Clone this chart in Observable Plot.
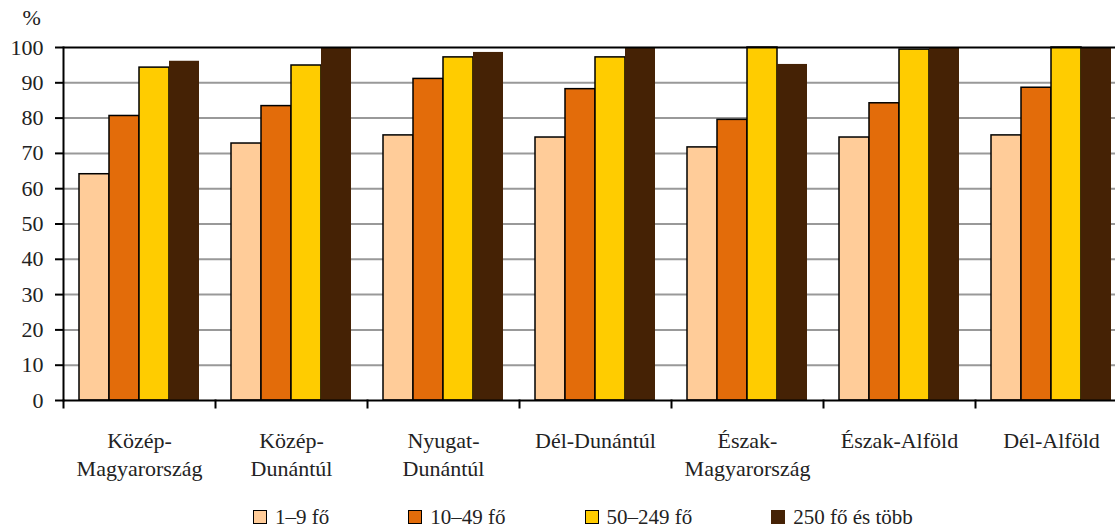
<!DOCTYPE html>
<html><head><meta charset="utf-8">
<script src="https://cdn.jsdelivr.net/npm/d3@7"></script>
<script src="https://cdn.jsdelivr.net/npm/@observablehq/plot@0.6"></script>
<style>
html,body{margin:0;padding:0;background:#fff;overflow:hidden;width:1115px;height:530px;}
body{padding-top:6px;box-sizing:border-box;}
#chart svg{max-width:none !important;display:block;}
#chart svg text{font-family:'Liberation Serif',serif;}
.legend{display:flex;align-items:center;padding-left:253px;margin-top:4px;font-family:'Liberation Serif',serif;font-size:21px;color:#222;line-height:26px;}
.legend .item{display:flex;align-items:center;margin-right:79px;}
.legend .sw{width:12px;height:12px;border:1.5px solid #000;margin-right:8px;display:inline-block;}
.legend .sw.nb{border-color:transparent;}
</style></head><body><div id="chart"></div>
<script>
const regions = ["Közép-Magyarország","Közép-Dunántúl","Nyugat-Dunántúl","Dél-Dunántúl","Észak-Magyarország","Észak-Alföld","Dél-Alföld"];
const tickLabels = ["Közép-\nMagyarország","Közép-\nDunántúl","Nyugat-\nDunántúl","Dél-Dunántúl","Észak-\nMagyarország","Észak-Alföld","Dél-Alföld"];
const sizes = ["1–9 fő","10–49 fő","50–249 fő","250 fő és több"];
const colors = ["#FFCC99","#E36C0A","#FFCC00","#452205"];
const v1_9    = [64.1, 72.8, 75.1, 74.5, 71.7, 74.5, 75.1];
const v10_49  = [80.6, 83.4, 91.1, 88.2, 79.5, 84.2, 88.6];
const v50_249 = [94.3, 94.9, 97.2, 97.2, 100, 99.4, 100];
const v250    = [96.1, 100, 98.6, 100, 95.2, 100, 100];
const yTicks = [0,10,20,30,40,50,60,70,80,90,100];
const gridTicks = [10,20,30,40,50,60,70,80,90];

const seriesValues = [v1_9, v10_49, v50_249, v250];
const data = [];
regions.forEach((r, i) => sizes.forEach((s, j) => data.push({region: r, size: s, value: seriesValues[j][i]})));
const labelOf = new Map(regions.map((r, i) => [r, tickLabels[i]]));

const plot = Plot.plot({
  width: 1127, height: 494,
  marginTop: 41, marginBottom: 100, marginLeft: 63, marginRight: 0,
  style: {fontFamily: "'Liberation Serif', serif", fontSize: "22px", color: "#000", background: "#fff", overflow: "visible"},
  fx: {domain: regions, padding: 0, label: null},
  x: {domain: sizes, paddingInner: 0, paddingOuter: 0.51, axis: null},
  y: {domain: [0, 100]},
  color: {domain: sizes, range: colors},
  marks: [
    Plot.gridY(gridTicks, {stroke: "#999", strokeOpacity: 1, strokeWidth: 2}),
    Plot.barY(data, {filter: d => d.size !== sizes[3], fx: "region", x: "size", y: "value", fill: "size", stroke: "#000", strokeWidth: 1.5}),
    Plot.barY(data, {filter: d => d.size === sizes[3], fx: "region", x: "size", y: "value", fill: "size"}),
    Plot.ruleY([0, 100], {stroke: "#000", strokeWidth: 2}),
    Plot.frame({anchor: "left", insetTop: 353, insetBottom: -7, stroke: "#000", strokeWidth: 2}),
    Plot.frame({anchor: "left", facet: "super", stroke: "#000", strokeWidth: 2}),
    Plot.axisY(yTicks, {tickSize: 8, tickPadding: 12, strokeWidth: 2, fontSize: 22, label: "%", labelAnchor: "top", labelArrow: "none", labelOffset: 41, fill: "#222"}),
    Plot.axisFx({anchor: "bottom", tickSize: 0, tickPadding: 27, fontSize: 22, lineHeight: 1.3, tickFormat: d => labelOf.get(d), label: null, fill: "#222"})
  ]
});
document.getElementById("chart").appendChild(plot);

const legend = document.createElement("div");
legend.className = "legend";
sizes.forEach((s, j) => {
  const item = document.createElement("div");
  item.className = "item";
  const sw = document.createElement("span");
  sw.className = "sw" + (j === 3 ? " nb" : "");
  sw.style.background = colors[j];
  item.appendChild(sw);
  item.appendChild(document.createTextNode(s));
  legend.appendChild(item);
});
document.body.appendChild(legend);
</script>
</body></html>
